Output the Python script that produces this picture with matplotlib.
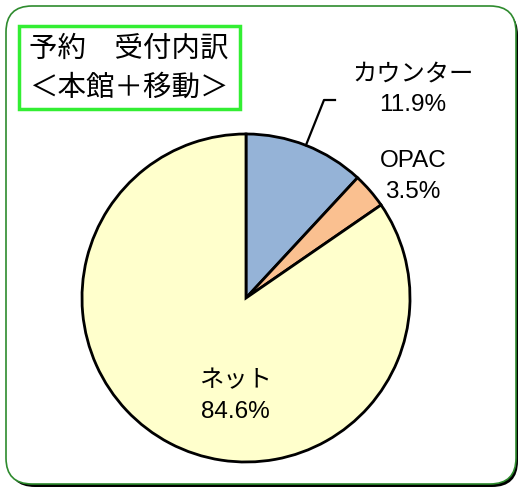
import numpy as np
import matplotlib.pyplot as plt
from matplotlib.patches import FancyBboxPatch, Rectangle

plt.rcParams['font.family'] = ['Liberation Sans', 'Noto Sans CJK JP', 'DejaVu Sans']

categories = ['カウンター', 'OPAC', 'ネット']
shares = [11.9, 3.5, 84.6]
colors = ['#95B3D7', '#FAC090', '#FFFFCC']
title_lines = ['予約　受付内訳', '＜本館＋移動＞']

W, H = 519, 487
fig = plt.figure(figsize=(W / 100, H / 100), dpi=100)
ax = fig.add_axes([0, 0, 1, 1])

# rounded outer frame with a dark drop shadow
shadow = FancyBboxPatch((9, 0), 509, 478, boxstyle='round,pad=0,rounding_size=26',
                        facecolor='black', edgecolor='none', zorder=0)
frame = FancyBboxPatch((6, 3), 510, 478, boxstyle='round,pad=0,rounding_size=26',
                       facecolor='white', edgecolor='#2E8B2E', linewidth=1.2, zorder=1)
ax.add_patch(shadow)
ax.add_patch(frame)

cx, cy, r = 246, H - 298, 164
wedges, _ = ax.pie(shares, colors=colors, startangle=90, counterclock=False,
                   center=(cx, cy), radius=r,
                   wedgeprops=dict(edgecolor='black', linewidth=2))
for w in wedges:
    w.set_zorder(2)

# name on top, percentage below
label_pos = {'カウンター': (413, H - 74), 'OPAC': (413, H - 161), 'ネット': (235, H - 381)}
for name, val in zip(categories, shares):
    x, y = label_pos[name]
    ax.text(x, y, name, ha='center', va='center', fontsize=17.5, zorder=5)
    ax.text(x, y - 31, f'{val:.1f}%', ha='center', va='center', fontsize=17.5, zorder=5)

# leader line for the counter slice
w0 = wedges[0]
mid = np.deg2rad((w0.theta1 + w0.theta2) / 2)
ex, ey = cx + r * np.cos(mid), cy + r * np.sin(mid)
ax.plot([ex, 324, 335], [ey, H - 100, H - 100], color='black', lw=1.6, zorder=4)

# title box
ax.add_patch(Rectangle((19, H - 109), 221, 83, facecolor='white',
                       edgecolor='#33EE33', linewidth=2.5, zorder=3))
ax.text(129, H - 49, title_lines[0], ha='center', va='center', fontsize=20.5, zorder=5)
ax.text(129, H - 88, title_lines[1], ha='center', va='center', fontsize=20.5, zorder=5)

ax.set_xlim(0, W)
ax.set_ylim(0, H)
ax.set_aspect('equal')
ax.axis('off')

fig.savefig('out.png', dpi=100)
